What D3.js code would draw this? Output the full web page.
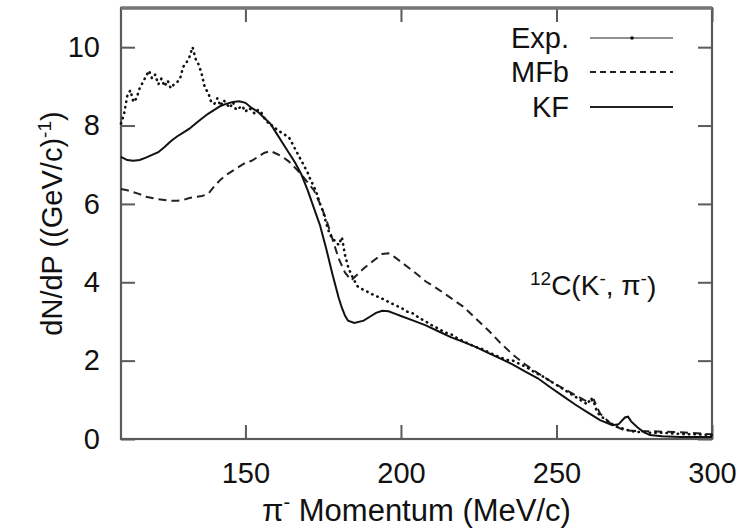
<!DOCTYPE html>
<html>
<head>
<meta charset="utf-8">
<script src="https://cdn.jsdelivr.net/npm/d3@7"></script>
<style>
  html, body { margin: 0; padding: 0; background: #fff; }
  svg { display: block; font-family: "Liberation Sans", Arial, Helvetica, sans-serif; }
</style>
</head>
<body>
<svg id="chart" width="743" height="531"></svg>
<script>
// Experimental spectrum (momentum in MeV/c, dN/dP)
const expP = [110,111,112,113,114,115,116,117,118,119,120,121,122,123,124,125,126,127,128,129,
  130,131,132,133,134,135,136,137,138,139,140,141,142,143,144,145,146,147,148,149,
  150,151,152,153,154,155,156,157,158,159,160,161,162,163,164,165,166,167,168,169,
  170,171,172,173,174,175,176,177,178,179,180,181,182,183,184,185,186,187,188,189,
  190,192,194,196,198,200,202,204,206,208,210,212,214,216,218,220,222,224,226,228,
  230,232,234,236,238,240,242,244,246,248,250,252,254,256,258,260,261,262,263,264,
  266,268,270,272,274,276,278,280,284,288,292,296,300];
const expN = [8.05,8.3,8.75,8.9,8.6,8.7,8.95,9.1,9.25,9.4,9.2,9.3,9.05,9.2,9.0,9.15,8.95,9.05,9.1,9.2,
  9.5,9.6,9.75,10.0,9.7,9.55,9.3,8.95,8.85,8.6,8.55,8.7,8.5,8.65,8.55,8.45,8.6,8.4,8.45,8.5,
  8.35,8.45,8.4,8.3,8.4,8.35,8.2,8.1,8.0,8.0,7.9,7.85,7.8,7.75,7.7,7.55,7.4,7.25,7.1,6.95,
  6.8,6.6,6.45,6.25,6.0,5.8,5.5,5.25,5.1,5.05,4.95,5.15,4.7,4.4,4.2,4.05,3.9,3.85,3.8,3.77,
  3.72,3.65,3.58,3.5,3.42,3.35,3.25,3.2,3.08,3.0,2.9,2.82,2.72,2.68,2.58,2.5,2.42,2.35,2.3,2.22,
  2.15,2.08,2.02,2.0,1.92,1.85,1.75,1.66,1.58,1.48,1.38,1.28,1.18,1.08,0.98,0.88,1.05,0.95,0.7,0.6,
  0.48,0.38,0.3,0.25,0.2,0.18,0.18,0.16,0.16,0.14,0.12,0.12,0.1];

// MFb calculation
const mfbP = [110,112,114,116,118,120,122,124,126,128,130,132,134,136,138,140,142,144,146,148,
  150,152,154,156,158,160,162,164,166,168,170,172,174,176,178,180,182,184,186,188,
  190,192,194,196,198,200,204,208,212,216,220,224,228,232,236,240,244,248,252,256,
  260,262,264,268,272,276,280,290,300];
const mfbN = [6.38,6.35,6.3,6.25,6.18,6.15,6.12,6.1,6.08,6.08,6.1,6.15,6.18,6.2,6.25,6.45,6.62,6.75,6.85,6.95,
  7.05,7.1,7.2,7.3,7.35,7.28,7.2,7.08,6.92,6.75,6.55,6.35,6.0,5.6,5.1,4.6,4.25,4.05,4.2,4.35,
  4.48,4.6,4.72,4.74,4.64,4.52,4.28,4.02,3.82,3.6,3.38,3.08,2.78,2.45,2.15,1.9,1.68,1.48,1.3,1.12,
  0.95,1.0,0.65,0.35,0.22,0.2,0.2,0.17,0.12];

// KF calculation
const kfP = [110,112,114,116,118,120,122,124,126,128,130,132,134,136,138,140,142,144,146,148,
  150,152,154,156,158,160,162,164,166,168,170,172,174,176,178,180,181,182,183,185,
  188,190,192,194,196,198,200,204,208,212,216,220,224,228,232,236,240,244,248,252,
  256,260,264,268,270,272,273,274,276,278,280,284,290,300];
const kfN = [7.2,7.12,7.1,7.12,7.18,7.25,7.32,7.45,7.6,7.72,7.82,7.92,8.05,8.18,8.3,8.4,8.5,8.56,8.6,8.62,
  8.58,8.45,8.35,8.2,8.05,7.8,7.55,7.3,7.05,6.75,6.35,5.9,5.45,4.85,4.2,3.6,3.35,3.15,3.02,2.96,
  3.02,3.12,3.22,3.27,3.26,3.2,3.14,3.02,2.9,2.75,2.6,2.48,2.35,2.2,2.05,1.9,1.72,1.55,1.32,1.1,
  0.88,0.68,0.48,0.35,0.38,0.55,0.57,0.45,0.3,0.18,0.1,0.07,0.05,0.05];

const xTicks = [150, 200, 250, 300];
const yTicks = [0, 2, 4, 6, 8, 10];
const legendNames = ["Exp.", "MFb", "KF"];

const W = 743, H = 531;
const margin = { top: 8, right: 31, bottom: 92, left: 121 };
const iw = W - margin.left - margin.right;
const ih = H - margin.top - margin.bottom;

const svg = d3.select("#chart");
const g = svg.append("g").attr("transform", `translate(${margin.left},${margin.top})`);

const x = d3.scaleLinear().domain([110, 300]).range([0, iw]);
const y = d3.scaleLinear().domain([0, 11]).range([ih, 0]);

const axisColor = "#5a5a5a";
const tickLen = 14;

// axes with inward ticks
const axBottom = g.append("g").attr("transform", `translate(0,${ih})`)
  .call(d3.axisBottom(x).tickValues(xTicks).tickSize(-tickLen).tickPadding(23).tickFormat(d3.format("d")));
const axLeft = g.append("g")
  .call(d3.axisLeft(y).tickValues(yTicks).tickSize(-tickLen).tickPadding(21).tickFormat(d3.format("d")));
const axTop = g.append("g")
  .call(d3.axisTop(x).tickValues(xTicks).tickSize(-tickLen).tickFormat(""));
const axRight = g.append("g").attr("transform", `translate(${iw},0)`)
  .call(d3.axisRight(y).tickValues(yTicks).tickSize(-tickLen).tickFormat(""));

[axBottom, axLeft, axTop, axRight].forEach(a => {
  a.select(".domain").remove();
  a.selectAll(".tick line").attr("stroke", axisColor).attr("stroke-width", 2);
  a.selectAll(".tick text").attr("fill", "#111").attr("font-size", 29)
    .attr("font-family", "'Liberation Sans', Arial, sans-serif");
});

// frame
g.append("rect").attr("x", 0).attr("y", 0).attr("width", iw).attr("height", ih)
  .attr("fill", "none").attr("stroke", axisColor).attr("stroke-width", 2.2);
g.append("line").attr("x1", 0).attr("x2", iw).attr("y1", 0).attr("y2", 0)
  .attr("stroke", "#777").attr("stroke-width", 3.5);

// curves
const line = d3.line().x(d => x(d[0])).y(d => y(d[1]));
const zip = (a, b) => a.map((v, i) => [v, b[i]]);

const plot = g.append("g");
plot.append("path").datum(zip(mfbP, mfbN)).attr("d", line)
  .attr("fill", "none").attr("stroke", "#222").attr("stroke-width", 2)
  .attr("stroke-dasharray", "8 5");
plot.append("path").datum(zip(kfP, kfN)).attr("d", line)
  .attr("fill", "none").attr("stroke", "#111").attr("stroke-width", 2);
// measured points drawn as a heavy dotted trace
plot.append("path").datum(zip(expP, expN)).attr("d", line)
  .attr("fill", "none").attr("stroke", "#111").attr("stroke-width", 2.6)
  .attr("stroke-dasharray", "0.4 5.2").attr("stroke-linecap", "round");

// legend
const lg = svg.append("g").attr("font-size", 29).attr("fill", "#111");
const legY = [38, 72, 107];
legendNames.forEach((name, i) => {
  lg.append("text").attr("x", 569).attr("y", legY[i]).attr("dy", "0.36em")
    .attr("text-anchor", "end").text(name);
  const ln = lg.append("line").attr("x1", 590).attr("x2", 673)
    .attr("y1", legY[i]).attr("y2", legY[i]).attr("stroke", "#222");
  if (name === "Exp.") {
    ln.attr("stroke-width", 1.2);
    lg.append("circle").attr("cx", 632).attr("cy", legY[i]).attr("r", 1.8).attr("fill", "#111");
  } else if (name === "MFb") {
    ln.attr("stroke-width", 1.8).attr("stroke-dasharray", "6 4");
  } else {
    ln.attr("stroke-width", 2);
  }
});

// reaction label
const ann = svg.append("text").attr("x", 530).attr("y", 295).attr("font-size", 28).attr("fill", "#111");
ann.append("tspan").attr("font-size", 19).attr("dy", "-0.55em").text("12");
ann.append("tspan").attr("dy", "0.38em").text("C(K");
ann.append("tspan").attr("font-size", 19).attr("dy", "-0.55em").text("-");
ann.append("tspan").attr("dy", "0.38em").text(", π");
ann.append("tspan").attr("font-size", 19).attr("dy", "-0.55em").text("-");
ann.append("tspan").attr("dy", "0.38em").text(")");

// axis titles
const xt = svg.append("text").attr("x", margin.left + iw / 2).attr("y", 521)
  .attr("text-anchor", "middle").attr("font-size", 31).attr("fill", "#111");
xt.append("tspan").text("π");
xt.append("tspan").attr("font-size", 20).attr("dy", "-0.6em").text("-");
xt.append("tspan").attr("dy", "0.4em").text(" Momentum (MeV/c)");

const yt = svg.append("text").attr("transform", `translate(62,${margin.top + ih / 2}) rotate(-90)`)
  .attr("text-anchor", "middle").attr("font-size", 29).attr("fill", "#111");
yt.append("tspan").text("dN/dP ((GeV/c)");
yt.append("tspan").attr("font-size", 19).attr("dy", "-0.6em").text("-1");
yt.append("tspan").attr("dy", "0.4em").text(")");
</script>
</body>
</html>
